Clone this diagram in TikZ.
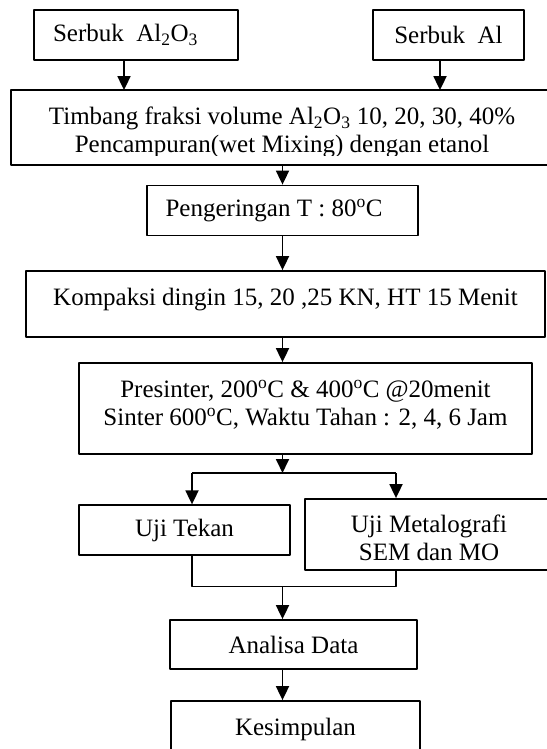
\documentclass[tikz,border=0pt]{standalone}
\usepackage{fontspec}
\setmainfont{Liberation Serif}
\usetikzlibrary{arrows.meta}
\begin{document}
\begin{tikzpicture}[x=1pt, y=-1pt, line join=round, >={Triangle[width=13pt,length=14pt]},
    font=\fontsize{25}{28}\selectfont,
    box/.style={draw, line width=1.8pt, inner sep=0pt, align=center},
    link/.style={line width=1.8pt}]
  \useasboundingbox (0,0) rectangle (546,749);
  % bahan awal
  \node[box, minimum width=204pt, minimum height=50pt] (alumina) at (136,35) {Serbuk~~Al\textsubscript{2}O\textsubscript{3}\hspace{21pt}};
  \node[box, minimum width=151pt, minimum height=50pt] (aluminium) at (448.5,35) {Serbuk~~Al};
  % timbang, teks terpotong di bawah
  \begin{scope}
    \clip (0,80) rectangle (560,155);
    \node[box, draw=none, minimum width=540pt, minimum height=73pt] (timbang) at (282,127.5)
      {\rule{0pt}{27pt}Timbang fraksi volume Al\textsubscript{2}O\textsubscript{3} 10, 20, 30, 40\%\\Pencampuran(wet Mixing) dengan etanol};
  \end{scope}
  \draw[link] (timbang.north west) rectangle (timbang.south east);
  \node[box, minimum width=271pt, minimum height=50pt] (kering) at (282.5,210.5) {Pengeringan T : 80\textsuperscript{o}C\hspace{17pt}};
  \node[box, minimum width=519pt, minimum height=66pt, text depth=15pt] (kompaksi) at (285.5,304) {Kompaksi dingin 15, 20 ,25 KN, HT 15 Menit};
  \node[box, minimum width=453pt, minimum height=91pt, text depth=12pt] (sinter) at (305.5,408.5)
    {Presinter, 200\textsuperscript{o}C \& 400\textsuperscript{o}C @20menit\\Sinter 600\textsuperscript{o}C, Waktu Tahan : 2, 4, 6 Jam};
  % pengujian
  \node[box, minimum width=211pt, minimum height=49.5pt] (tekan) at (184.5,530) {Uji Tekan};
  \node[box, minimum width=248pt, minimum height=71pt] (metalo) at (429,534.5) {\rule{0pt}{25pt}Uji Metalografi\\SEM dan MO};
  \node[box, minimum width=247pt, minimum height=49pt] (analisa) at (293.5,644.5) {Analisa Data};
  \node[box, minimum width=249pt, minimum height=56pt] (simpul) at (295.5,729) {Kesimpulan};
  % titik cabang
  \coordinate (pisahL) at (192,473);
  \coordinate (pisahR) at (396,473);
  \coordinate (gabungL) at (192,586.5);
  \coordinate (gabungR) at (396,586.5);
  % panah
  \draw[link,->] ([xshift=-12pt]alumina.south) -- ([xshift=-12pt]alumina.south |- timbang.north);
  \draw[link,->] ([xshift=-8.5pt]aluminium.south) -- ([xshift=-8.5pt]aluminium.south |- timbang.north);
  \draw[link,->] (timbang.south -| kering) -- (kering.north);
  \draw[link,->] (kering.south) -- (kering.south |- kompaksi.north);
  \draw[link,->] (kompaksi.south -| kering) -- (sinter.north -| kering);
  \draw[link,->] (sinter.south -| kering) -- (pisahL -| kering);
  \draw[link] (pisahL) -- (pisahR);
  \draw[link,->] (pisahL) -- (pisahL |- tekan.north);
  \draw[link,->] (pisahR) -- (pisahR |- metalo.north);
  \draw[link] (tekan.south -| gabungL) -- (gabungL) -- (gabungR) -- (metalo.south -| gabungR);
  \draw[link,->] (gabungL -| kering) -- (analisa.north -| kering);
  \draw[link,->] (analisa.south -| kering) -- (simpul.north -| kering);
\end{tikzpicture}
\end{document}
